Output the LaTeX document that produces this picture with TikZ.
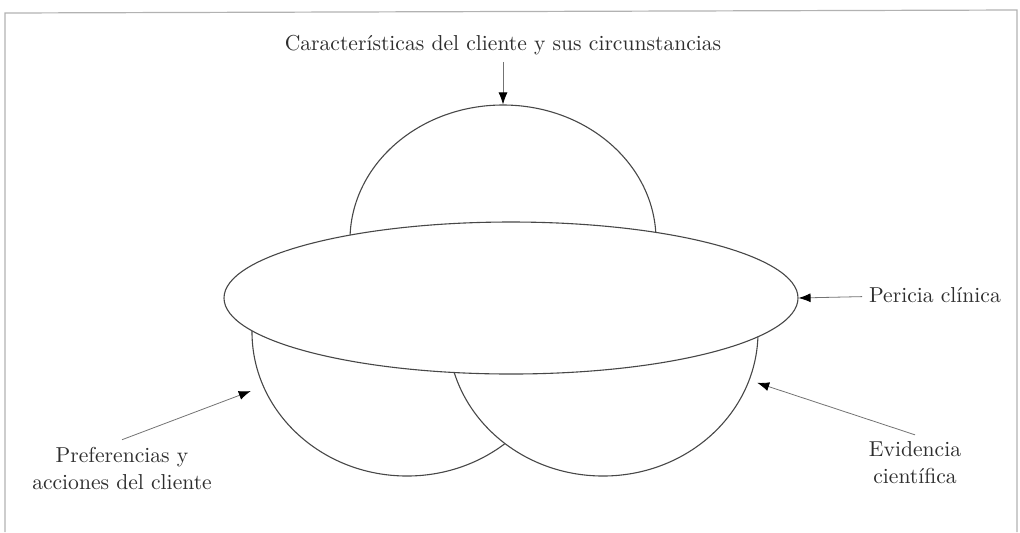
\documentclass[tikz,border=0pt]{standalone}
\usetikzlibrary{shapes.geometric,arrows.meta}
\colorlet{linec}{black!72}
\colorlet{arrowc}{black!55}
\colorlet{textc}{black!82}
\colorlet{framec}{black!30}
\tikzstyle{diagram} = [
  x=0.5pt,
  y=-0.5pt,
  font=\fontsize{10.8}{13.5}\selectfont,
  text=textc,
]
\tikzstyle{lobe} = [
  ellipse,
  draw=linec,
  fill=white,
  line width=0.55pt,
  inner sep=0pt,
  minimum width=155pt,
  minimum height=144pt,
]
\tikzstyle{pointer} = [
  draw=arrowc,
  line width=0.4pt,
  -{Latex[length=6pt,width=4.5pt,color=black]},
]

\begin{document}
\begin{tikzpicture}[diagram]
    \useasboundingbox (0,0) rectangle (1020,532);

    % Frame
    \draw[framec, line width=0.6pt] (5,532) -- (5,13) -- (1017,10) -- (1017,532);

    % Upper lobe (lower half hidden)
    \begin{scope}
        \clip (0,0) rectangle (1020,240);
        \node[lobe, minimum width=153pt, minimum height=135pt] (client) at (503,240) {};
    \end{scope}

    % Lower lobes (upper half hidden)
    \begin{scope}
        \clip (0,330) rectangle (1020,532);
        \node[lobe] (prefs) at (407,332) {};
        \node[lobe] (evidence) at (603,332) {};
    \end{scope}

    % Middle ellipse
    \node[lobe, minimum width=287pt, minimum height=76pt] (expertise) at (511,298) {};

    % Labels
    \node (clientlbl) at (503,45) {Características del cliente y sus circunstancias};
    \node[anchor=west] (expertiselbl) at (862,295) {Pericia clínica};
    \node[align=center] (prefslbl) at (122,468) {Preferencias y\\acciones del cliente};
    \node[align=center] (evidencelbl) at (915,463) {Evidencia\\científica};

    % Pointers
    \draw[pointer] (clientlbl) -- (client.north);
    \draw[pointer] (expertiselbl) -- (expertise.east);
    \draw[pointer, shorten >=6.5pt] (prefslbl.north) -- (prefs);
    \draw[pointer, shorten >=4pt] (evidencelbl.north) -- (evidence);
\end{tikzpicture}
\end{document}
